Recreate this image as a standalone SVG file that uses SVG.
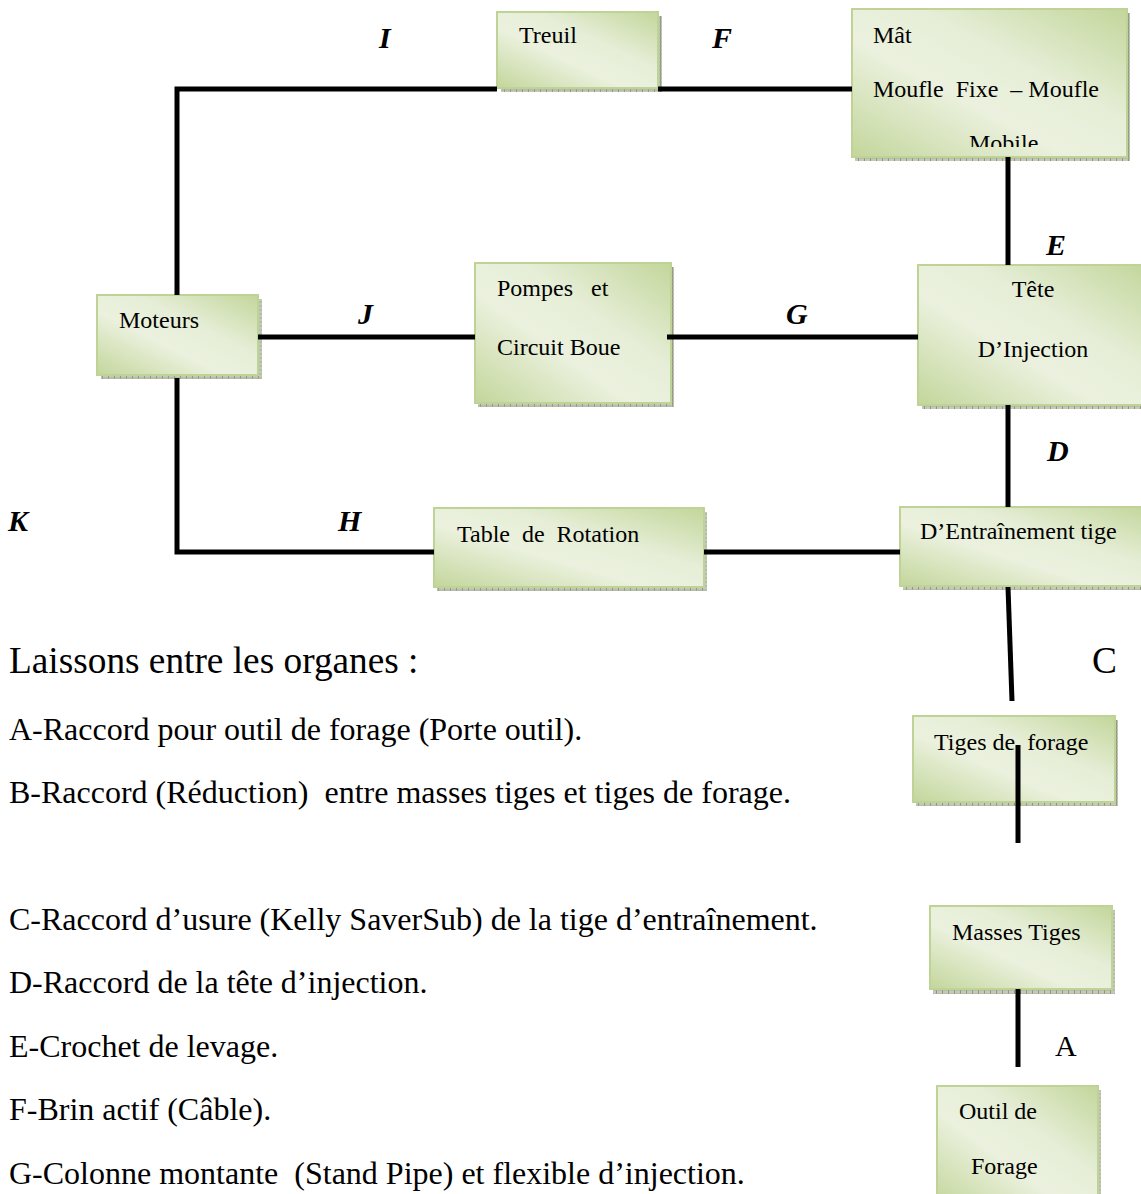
<svg xmlns="http://www.w3.org/2000/svg" width="1141" height="1194" viewBox="0 0 1141 1194">
<defs>
<linearGradient id="gfill" x1="0" y1="1" x2="1" y2="0">
<stop offset="0" stop-color="#c3d69b"/>
<stop offset="0.4" stop-color="#ebf1de"/>
<stop offset="0.62" stop-color="#e6eed7"/>
<stop offset="1" stop-color="#c3d69b"/>
</linearGradient>
<pattern id="hatch" width="6" height="4" patternUnits="userSpaceOnUse">
<rect width="6" height="4" fill="#c4cab6"/>
<rect x="0" y="0" width="1" height="4" fill="#8e9582"/>
<rect x="0" y="1.5" width="6" height="1" fill="#a9b09a"/>
</pattern>
<clipPath id="matclip"><rect x="852" y="9" width="275" height="138"/></clipPath>
</defs>
<style>
.box{fill:url(#gfill);stroke:#bfd396;stroke-width:2}
.sh{fill:url(#hatch)}
.t{font-family:"Liberation Serif","Times New Roman",serif;font-size:24px;fill:#000;white-space:pre}
.lbl{font-family:"Liberation Serif","Times New Roman",serif;font-size:30px;font-weight:bold;font-style:italic;fill:#000}
.big{font-family:"Liberation Serif","Times New Roman",serif;font-size:37.3px;fill:#000;white-space:pre}
.lst{font-family:"Liberation Serif","Times New Roman",serif;font-size:32px;fill:#000;white-space:pre}
.ln{fill:none;stroke:#000;stroke-width:5;stroke-linejoin:miter;stroke-linecap:butt}
</style>
<rect width="1141" height="1194" fill="#fff"/>

<g id="moteurs">
<rect class="sh" x="101" y="299" width="161" height="80"/>
<rect class="box" x="97" y="295" width="161" height="80"/>
<text class="t" x="119" y="328">Moteurs</text>
</g>
<g id="treuil">
<rect class="sh" x="501" y="16" width="161" height="76"/>
<rect class="box" x="497" y="12" width="161" height="76"/>
<text class="t" x="519" y="43">Treuil</text>
</g>
<g id="mat">
<rect class="sh" x="855" y="13" width="275" height="148"/>
<rect class="box" x="852" y="9" width="275" height="148"/>
<g clip-path="url(#matclip)">
<text class="t" x="873" y="43">Mât</text>
<text class="t" x="873" y="97">Moufle  Fixe  – Moufle</text>
<text class="t" x="969" y="151">Mobile</text>
</g>
</g>
<g id="pompes">
<rect class="sh" x="478" y="267" width="196" height="140"/>
<rect class="box" x="475" y="263" width="196" height="140"/>
<text class="t" x="497" y="296">Pompes   et</text>
<text class="t" x="497" y="355">Circuit Boue</text>
</g>
<g id="tete">
<rect class="sh" x="922" y="269" width="230" height="140"/>
<rect class="box" x="918" y="265" width="230" height="140"/>
<text class="t" x="1033" y="297" text-anchor="middle">Tête</text>
<text class="t" x="1033" y="357" text-anchor="middle">D’Injection</text>
</g>
<g id="table">
<rect class="sh" x="437" y="512" width="270" height="79"/>
<rect class="box" x="434" y="508" width="270" height="79"/>
<text class="t" x="457" y="542">Table  de  Rotation</text>
</g>
<g id="entrainement">
<rect class="sh" x="903" y="511" width="250" height="79"/>
<rect class="box" x="900" y="507" width="250" height="79"/>
<text class="t" x="920" y="539">D’Entraînement tige</text>
</g>
<g id="tiges">
<rect class="sh" x="916" y="720" width="202" height="86"/>
<rect class="box" x="913" y="716" width="202" height="86"/>
<text class="t" x="934" y="750">Tiges de  forage</text>
</g>
<g id="masses">
<rect class="sh" x="933" y="910" width="182" height="84"/>
<rect class="box" x="930" y="906" width="182" height="83"/>
<text class="t" x="952" y="940">Masses Tiges</text>
</g>
<g id="outil">
<rect class="sh" x="940" y="1090" width="161" height="120"/>
<rect class="box" x="937" y="1086" width="161" height="120"/>
<text class="t" x="959" y="1119">Outil de</text>
<text class="t" x="971" y="1174">Forage</text>
</g>

<g id="connectors">
<polyline class="ln" points="177,295 177,89 497,89"/>
<line class="ln" x1="658" y1="89" x2="852" y2="89"/>
<line class="ln" x1="1008" y1="157" x2="1008" y2="265"/>
<line class="ln" x1="258" y1="337" x2="475" y2="337"/>
<line class="ln" x1="667" y1="337" x2="918" y2="337"/>
<line class="ln" x1="1008" y1="405" x2="1008" y2="507"/>
<polyline class="ln" points="177,378 177,552 434,552"/>
<line class="ln" x1="704" y1="552" x2="900" y2="552"/>
<line class="ln" x1="1008" y1="587" x2="1012" y2="701"/>
<line class="ln" x1="1018" y1="745" x2="1018" y2="843"/>
<line class="ln" x1="1018" y1="989" x2="1018" y2="1067"/>
</g>

<g id="labels">
<text class="lbl" x="379" y="48">I</text>
<text class="lbl" x="712" y="48">F</text>
<text class="lbl" x="1046" y="255">E</text>
<text class="lbl" x="358" y="324">J</text>
<text class="lbl" x="786" y="324">G</text>
<text class="lbl" x="1047" y="461">D</text>
<text class="lbl" x="8" y="531">K</text>
<text class="lbl" x="338" y="531">H</text>
<text class="big" x="1092" y="673">C</text>
<text class="lbl" x="1055" y="1056" style="font-weight:normal;font-style:normal">A</text>
</g>

<g id="legend">
<text class="big" x="9" y="673">Laissons entre les organes :</text>
<text class="lst" x="9" y="740">A-Raccord pour outil de forage (Porte outil).</text>
<text class="lst" x="9" y="803">B-Raccord (Réduction)  entre masses tiges et tiges de forage.</text>
<text class="lst" x="9" y="930">C-Raccord d’usure (Kelly SaverSub) de la tige d’entraînement.</text>
<text class="lst" x="9" y="993">D-Raccord de la tête d’injection.</text>
<text class="lst" x="9" y="1057">E-Crochet de levage.</text>
<text class="lst" x="9" y="1120">F-Brin actif (Câble).</text>
<text class="lst" x="9" y="1184">G-Colonne montante  (Stand Pipe) et flexible d’injection.</text>
</g>
</svg>
